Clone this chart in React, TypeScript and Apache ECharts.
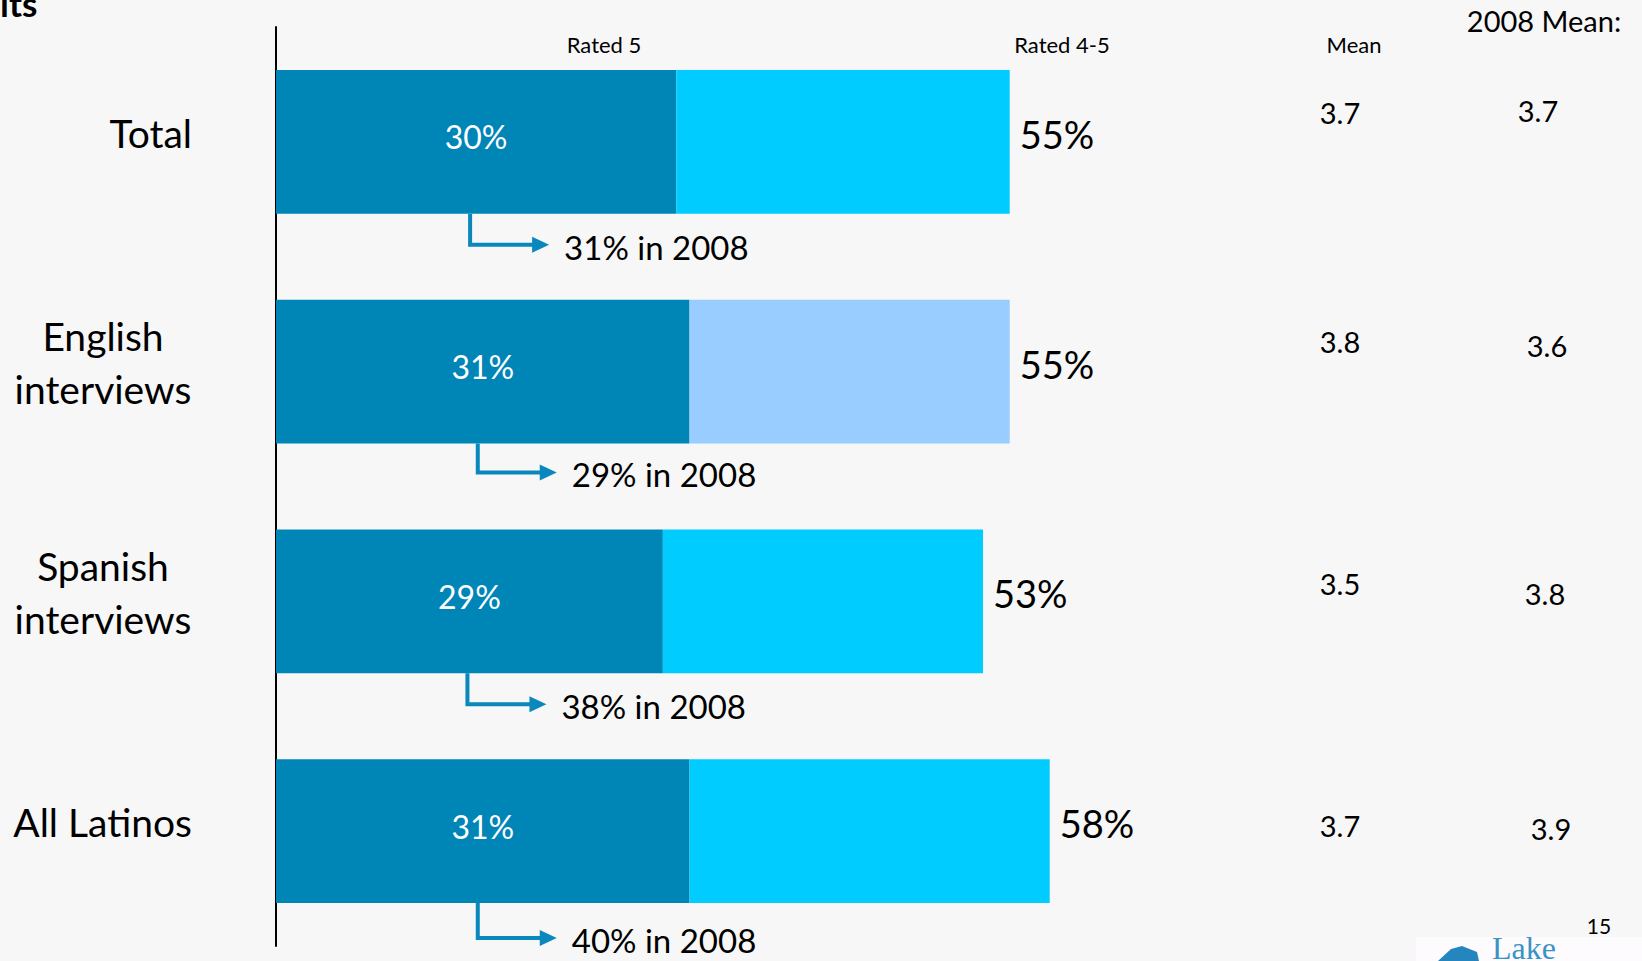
import React, { useEffect, useRef } from "react";
import * as echarts from "echarts";

const categories = ["Total", "English interviews", "Spanish interviews", "All Latinos"];
const rated5 = [30, 31, 29, 31];
const rated45 = [55, 55, 53, 58];
const rated5In2008 = [31, 29, 38, 40];
const meanNow = [3.7, 3.8, 3.5, 3.7];
const mean2008 = [3.7, 3.6, 3.8, 3.9];
const headerRated5 = "Rated 5";
const headerRated45 = "Rated 4-5";
const headerMean = "Mean";
const header2008Mean = "2008 Mean:";

// layout (pixels) – not data
const MEAN_X = 1340;
const MEAN2008_X = [1538, 1547, 1545, 1551];
const MEAN_DY = [-29, -30, -18, -6];
const MEAN2008_DY = [-31, -26, -8, -3];
const ARROW_DROP = [31, 29, 31, 35];
const ELBOW_DX = [-6, -5, -2, -5];

const DARK = "#0085B7";
const CYAN = "#00CCFF";
const PALE = "#99CCFF";
const ARROW = "#0A87BC";
const FONT = "Lato";

export default function App() {
  const ref = useRef<HTMLDivElement>(null);
  useEffect(() => {
    if (!ref.current) return;
    const chart = echarts.init(ref.current, null, { renderer: "svg" });
    const twoLine: Record<string, string> = {
      "English interviews": "{c|English}\n{c|interviews}",
      "Spanish interviews": "{c|Spanish}\n{c|interviews}",
    };
    chart.setOption({
      animation: false,
      backgroundColor: "#F7F7F7",
      grid: { left: 276, right: 32, top: 27, bottom: 15, containLabel: false },
      xAxis: { type: "value", min: 0, max: 100, show: false },
      yAxis: {
        type: "category",
        inverse: true,
        data: categories,
        axisLine: { show: true, lineStyle: { color: "#000", width: 2 } },
        axisTick: { show: false },
        axisLabel: {
          margin: 84,
          color: "#000",
          fontFamily: FONT,
          fontSize: 39,
          padding: [0, 0, 18, 0],
          formatter: (v: string) => twoLine[v] || `{s|${v}}`,
          rich: {
            c: { width: 178, align: "center", fontSize: 39, lineHeight: 53, fontFamily: FONT, color: "#000" },
            s: { fontSize: 39, fontFamily: FONT, color: "#000" },
          },
        },
      },
      series: [
        {
          name: "Rated 5",
          type: "bar",
          stack: "r",
          barWidth: "62.5%",
          data: rated5,
          itemStyle: { color: DARK },
          label: {
            show: true,
            position: "inside",
            color: "#fff",
            fontFamily: FONT,
            fontSize: 32,
            offset: [0, -5],
            formatter: (p: any) => `${p.value}%`,
          },
        },
        {
          name: "Rated 4-5",
          type: "bar",
          stack: "r",
          barWidth: "62.5%",
          data: rated45.map((v, i) => ({
            value: v - rated5[i],
            itemStyle: { color: i === 1 ? PALE : CYAN },
          })),
          label: {
            show: true,
            position: "right",
            distance: 10,
            color: "#000",
            fontFamily: FONT,
            fontSize: 38,
            offset: [0, -8],
            formatter: (p: any) => `${rated45[p.dataIndex]}%`,
          },
        },
        {
          type: "custom",
          data: rated5.map((v, i) => [v, i]),
          encode: { x: 0, y: 1 },
          clip: false,
          renderItem: (params: any, api: any) => {
            const i = params.dataIndex;
            const [cx, cy] = api.coord([api.value(0) / 2, api.value(1)]);
            const band = api.size([0, 1])[1];
            const bottom = cy + band * 0.3125;
            const ex = cx + ELBOW_DX[i];
            const ay = bottom + ARROW_DROP[i];
            return {
              type: "group",
              children: [
                {
                  type: "polyline",
                  shape: { points: [[ex, bottom], [ex, ay], [ex + 64, ay]] },
                  style: { stroke: ARROW, lineWidth: 4, fill: "none" },
                },
                {
                  type: "polygon",
                  shape: { points: [[ex + 62, ay - 8], [ex + 79, ay], [ex + 62, ay + 8]] },
                  style: { fill: ARROW, stroke: "none" },
                },
                {
                  type: "text",
                  x: ex + 94,
                  y: ay + 2,
                  style: {
                    text: `${rated5In2008[i]}% in 2008`,
                    fill: "#000",
                    fontSize: 33,
                    fontFamily: FONT,
                    align: "left",
                    verticalAlign: "middle",
                  },
                },
                {
                  type: "text",
                  x: MEAN_X,
                  y: cy + MEAN_DY[i],
                  style: {
                    text: meanNow[i].toFixed(1),
                    fill: "#000",
                    fontSize: 29,
                    fontFamily: FONT,
                    align: "center",
                    verticalAlign: "middle",
                  },
                },
                {
                  type: "text",
                  x: MEAN2008_X[i],
                  y: cy + MEAN2008_DY[i],
                  style: {
                    text: mean2008[i].toFixed(1),
                    fill: "#000",
                    fontSize: 29,
                    fontFamily: FONT,
                    align: "center",
                    verticalAlign: "middle",
                  },
                },
              ],
            };
          },
        },
      ],
      graphic: [
        { type: "text", x: 0, y: 20, style: { text: "its", fill: "#000", font: `bold 35px ${FONT}`, align: "left", verticalAlign: "bottom" } },
        { type: "text", x: 604, y: 44, style: { text: headerRated5, fill: "#000", fontSize: 22, fontFamily: FONT, align: "center", verticalAlign: "middle" } },
        { type: "text", x: 1062, y: 44, style: { text: headerRated45, fill: "#000", fontSize: 22, fontFamily: FONT, align: "center", verticalAlign: "middle" } },
        { type: "text", x: 1354, y: 44, style: { text: headerMean, fill: "#000", fontSize: 22, fontFamily: FONT, align: "center", verticalAlign: "middle" } },
        { type: "text", x: 1544, y: 20, style: { text: header2008Mean, fill: "#000", fontSize: 29, fontFamily: FONT, align: "center", verticalAlign: "middle" } },
        { type: "text", x: 1599, y: 925, style: { text: "15", fill: "#000", fontSize: 21, fontFamily: FONT, align: "center", verticalAlign: "middle" } },
        { type: "rect", shape: { x: 1416, y: 937, width: 226, height: 24 }, style: { fill: "#FDFBFE" } },
        { type: "polygon", shape: { points: [[1438, 961], [1451, 949], [1462, 946], [1477, 952], [1479, 961]] }, style: { fill: "#2586BF" } },
        { type: "text", x: 1492, y: 948, style: { text: "Lake", fill: "#3A93C8", font: `32px "Liberation Serif"`, align: "left", verticalAlign: "middle" } },
      ],
    });
    return () => chart.dispose();
  }, []);
  return <div ref={ref} style={{ position: "fixed", left: 0, top: 0, width: 1642, height: 961 }} />;
}
